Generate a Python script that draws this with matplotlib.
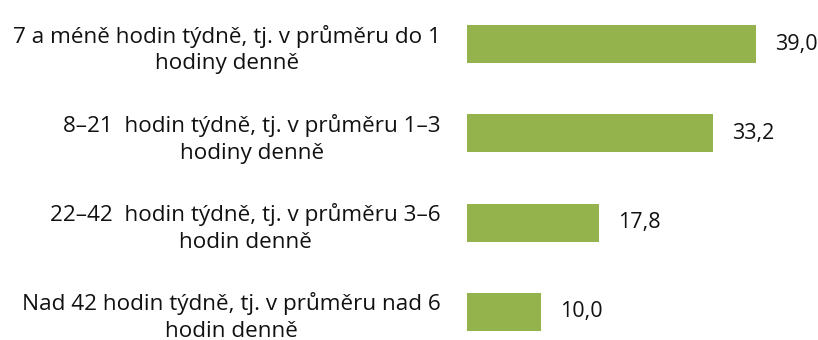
import matplotlib
matplotlib.use("Agg")
import matplotlib.pyplot as plt

categories = [
    "7 a méně hodin týdně, tj. v průměru do 1\nhodiny denně",
    "8\u201321  hodin týdně, tj. v průměru 1\u20133\nhodiny denně",
    "22\u201342  hodin týdně, tj. v průměru 3\u20136\nhodin denně",
    "Nad 42 hodin týdně, tj. v průměru nad 6\nhodin denně",
]
values = [39.0, 33.2, 17.8, 10.0]

plt.rcParams["font.family"] = ["Open Sans", "DejaVu Sans"]

W, H = 818, 340
fig = plt.figure(figsize=(W / 100, H / 100), dpi=100)
left_px = 467
ax = fig.add_axes([left_px / W, 0, 1 - left_px / W, 1])

pos = list(range(len(categories)))
ax.barh(pos, values, height=0.425, color="#95B34D", edgecolor="none")

px_per_unit = (756 - left_px) / 39.0
ax.set_xlim(0, (W - left_px) / px_per_unit)
step = 89.3
ax.set_ylim(3 + 28 / step, -44 / step)

for p, v in zip(pos, values):
    ax.text(v + 19 / px_per_unit, p, f"{v:.1f}".replace(".", ","),
            va="center", ha="left", fontsize=15.5, color="#111111")

ax.set_yticks(pos)
ax.set_yticklabels(categories, fontsize=16.2, color="#111111",
                   multialignment="center", linespacing=1.36)
ax.tick_params(axis="y", length=0, pad=19)
ax.set_xticks([])
for s in ax.spines.values():
    s.set_visible(False)

fig.savefig("out.png", dpi=100)
